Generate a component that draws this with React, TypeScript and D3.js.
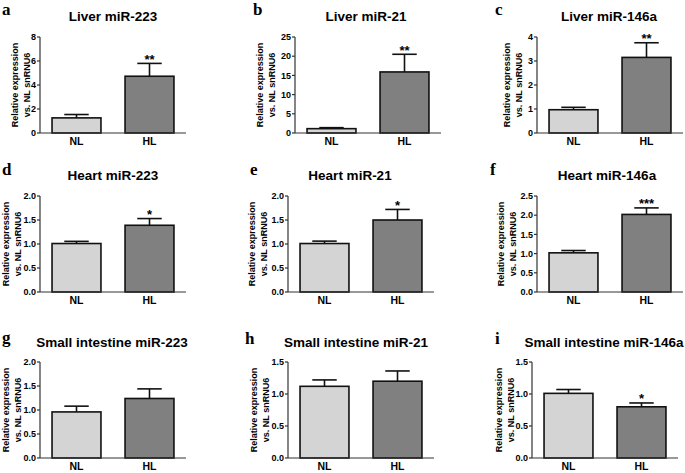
import React from "react";
import * as d3 from "d3";

// values (mean and top of the SEM bar)
const groups = ["NL", "HL"];
const panelLetters = ["a", "b", "c", "d", "e", "f", "g", "h", "i"];
const panelTitles = [
  "Liver miR-223",
  "Liver miR-21",
  "Liver miR-146a",
  "Heart miR-223",
  "Heart miR-21",
  "Heart miR-146a",
  "Small intestine miR-223",
  "Small intestine miR-21",
  "Small intestine miR-146a",
];
const nlMean = [1.26, 1.13, 0.97, 1.01, 1.01, 1.02, 0.96, 1.12, 1.01];
const nlUpper = [1.54, 1.39, 1.07, 1.055, 1.06, 1.08, 1.08, 1.22, 1.07];
const hlMean = [4.73, 15.9, 3.15, 1.39, 1.5, 2.02, 1.24, 1.2, 0.8];
const hlUpper = [5.8, 20.5, 3.76, 1.53, 1.72, 2.19, 1.44, 1.36, 0.86];
const yMax = [8, 25, 4, 2, 2, 2.5, 2, 1.5, 1.5];
const yStep = [2, 5, 1, 0.5, 0.5, 0.5, 0.5, 0.5, 0.5];
const hlStars = ["**", "**", "**", "*", "*", "***", "", "", "*"];
const yLabelLines = ["Relative expression", "vs. NL snRNU6"];

// layout per panel (pixels)
const axisX = [40, 295, 537, 40, 288, 537, 40, 288, 532];
const rowTop = [37, 37, 37, 196, 196, 196, 362, 362, 362];
const rowZero = [133, 133, 133, 292, 292, 292, 458, 458, 458];
const titleX = [113, 366, 609, 113, 350, 607, 112, 356, 604];
const titleY = [21, 21, 21, 180, 180, 180, 347, 347, 347];
const letterX = [2, 253, 495, 2, 250, 490, 2, 245, 495];
const letterY = [15, 15, 15, 175, 175, 175, 343, 344, 344];
const yLabel2X = [26, 271, 518, 17, 263, 512, 17, 265, 510];

const FONT = "'Liberation Sans', Arial, sans-serif";
const SERIF = "'Liberation Serif', 'Times New Roman', serif";

function Panel({ i }: { i: number }) {
  const x0 = axisX[i];
  const xScale = d3
    .scaleBand<string>()
    .domain(groups)
    .range([x0, x0 + 146])
    .paddingInner(0.33)
    .paddingOuter(0.165);
  const yScale = d3.scaleLinear().domain([0, yMax[i]]).range([rowZero[i], rowTop[i]]);
  const ticks = d3.range(0, yMax[i] + yStep[i] / 2, yStep[i]);
  const fmt = yStep[i] < 1 ? d3.format(".1f") : d3.format("d");
  const means = [nlMean[i], hlMean[i]];
  const uppers = [nlUpper[i], hlUpper[i]];
  const fills = ["#d4d4d4", "#808080"];
  const bw = xScale.bandwidth();
  const yMid = (rowZero[i] + rowTop[i]) / 2;
  const l2 = yLabel2X[i];

  return (
    <g>
      <text x={letterX[i]} y={letterY[i]} fontFamily={SERIF} fontWeight="bold" fontSize={17}>
        {panelLetters[i]}
      </text>
      <text x={titleX[i]} y={titleY[i]} textAnchor="middle" fontFamily={FONT} fontWeight="bold" fontSize={13.5}>
        {panelTitles[i]}
      </text>
      {yLabelLines.map((t, k) => {
        const cx = l2 - (1 - k) * 12 + 3.5;
        return (
          <text
            key={k}
            transform={`translate(${cx},${yMid}) rotate(-90)`}
            textAnchor="middle"
            fontFamily={FONT}
            fontWeight="bold"
            fontSize={9}
          >
            {t}
          </text>
        );
      })}
      {groups.map((g, k) => {
        const bx = xScale(g) as number;
        const yTop = yScale(means[k]);
        const yErr = yScale(uppers[k]);
        const cx = bx + bw / 2;
        return (
          <g key={g}>
            <line x1={cx} x2={cx} y1={yTop} y2={yErr} stroke="#111" strokeWidth={1.6} />
            <line x1={cx - bw / 4} x2={cx + bw / 4} y1={yErr} y2={yErr} stroke="#111" strokeWidth={1.6} />
            <rect
              x={bx}
              y={yTop}
              width={bw}
              height={yScale(0) - yTop}
              fill={fills[k]}
              stroke="#111"
              strokeWidth={1.6}
            />
            <text
              x={cx}
              y={rowZero[i] + 12}
              textAnchor="middle"
              fontFamily={FONT}
              fontWeight="bold"
              fontSize={10.5}
            >
              {g}
            </text>
            {k === 1 && hlStars[i] ? (
              <text x={cx} y={yErr + 0.5} textAnchor="middle" fontFamily={FONT} fontWeight="bold" fontSize={13}>
                {hlStars[i]}
              </text>
            ) : null}
          </g>
        );
      })}
      {/* axes */}
      <line x1={x0} x2={x0} y1={rowTop[i]} y2={rowZero[i]} stroke="#333" strokeWidth={1.2} />
      <line x1={x0} x2={x0 + 146} y1={rowZero[i]} y2={rowZero[i]} stroke="#333" strokeWidth={1.2} />
      {ticks.map((t) => (
        <g key={t}>
          <line x1={x0 - 3} x2={x0} y1={yScale(t)} y2={yScale(t)} stroke="#333" strokeWidth={1.2} />
          <text
            x={x0 - 4}
            y={yScale(t) + 3.2}
            textAnchor="end"
            fontFamily={FONT}
            fontWeight="bold"
            fontSize={9}
          >
            {fmt(t)}
          </text>
        </g>
      ))}
    </g>
  );
}

export default function App() {
  return (
    <svg
      width={685}
      height={473}
      style={{ position: "absolute", left: 0, top: 0, background: "#fff" }}
    >
      <rect width={685} height={473} fill="#fff" />
      {panelTitles.map((_, i) => (
        <Panel key={i} i={i} />
      ))}
    </svg>
  );
}
